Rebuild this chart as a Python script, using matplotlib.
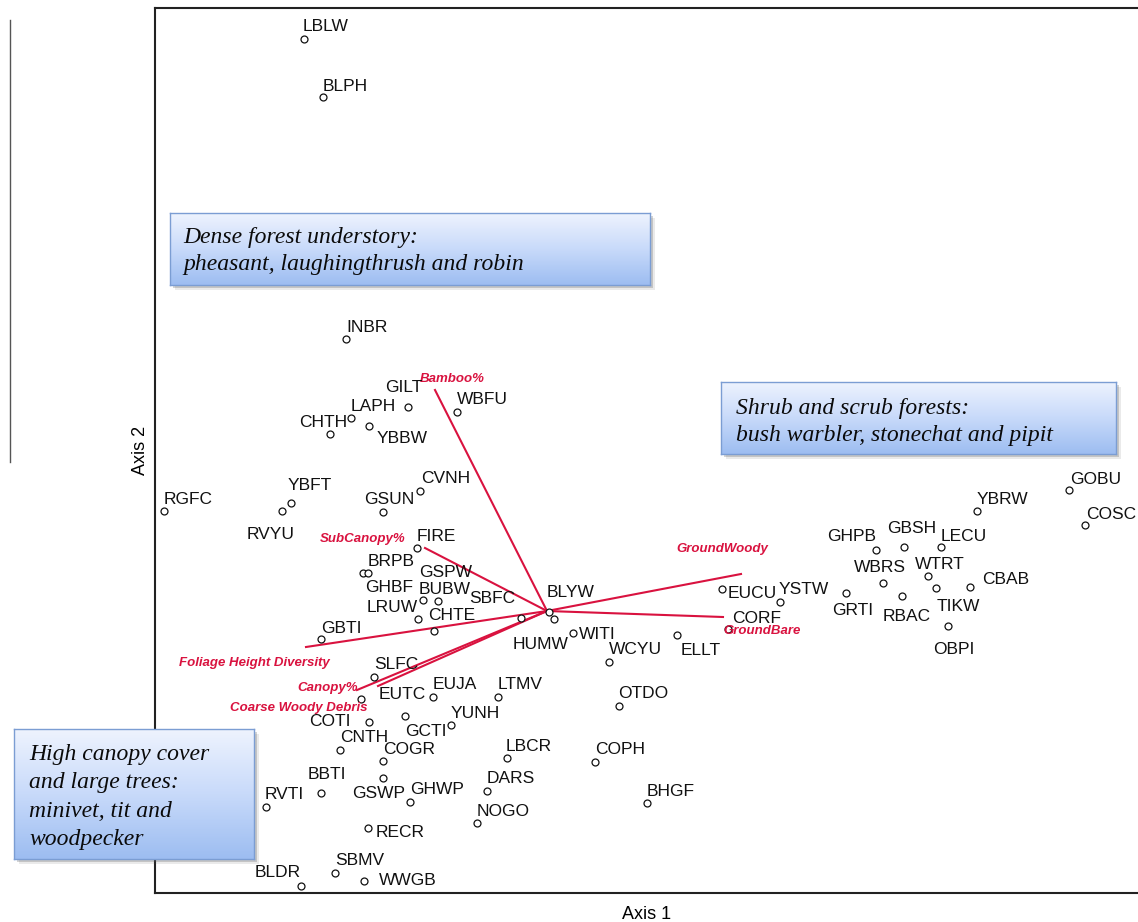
import matplotlib
matplotlib.use("Agg")
import matplotlib.pyplot as plt
import numpy as np
from matplotlib.lines import Line2D
from matplotlib.patches import Rectangle

plt.rcParams['font.family'] = ['Liberation Sans', 'DejaVu Sans']

# species scores on the two ordination axes
species = ["LBLW", "BLPH", "INBR", "GILT", "WBFU", "LAPH", "CHTH", "YBBW",
           "CVNH", "YBFT", "RVYU", "RGFC", "GSUN", "FIRE", "BRPB", "GHBF",
           "GSPW", "BUBW", "LRUW", "CHTE", "SBFC", "BLYW", "HUMW", "GBTI",
           "WITI", "WCYU", "ELLT", "EUCU", "YSTW", "CORF", "OTDO", "COPH",
           "BHGF", "LBCR", "DARS", "NOGO", "LTMV", "SLFC", "EUTC", "EUJA",
           "YUNH", "GCTI", "COTI", "CNTH", "COGR", "GSWP", "GHWP", "BBTI",
           "RVTI", "RECR", "SBMV", "WWGB", "BLDR", "GOBU", "COSC", "YBRW",
           "GHPB", "GBSH", "LECU", "WBRS", "WTRT", "CBAB", "TIKW", "RBAC",
           "GRTI", "OBPI"]
axis1 = [-2.43, -2.24, -2.01, -1.39, -0.90, -1.96, -2.17, -1.78,
         -1.27, -2.56, -2.65, -3.83, -1.64, -1.30, -1.84, -1.79,
         -1.24, -1.09, -1.29, -1.13, -0.26, 0.02, 0.07, -2.26,
         0.26, 0.62, 1.30, 1.75, 2.33, 1.81, 0.72, 0.48,
         1.00, -0.40, -0.60, -0.70, -0.49, -1.73, -1.86, -1.14,
         -0.96, -1.42, -1.78, -2.07, -1.64, -1.64, -1.37, -2.26,
         -2.81, -1.79, -2.12, -1.83, -2.46, 5.22, 5.38, 4.30,
         3.29, 3.57, 3.94, 3.36, 3.81, 4.23, 3.89, 3.55,
         2.99, 4.01]
axis2 = [5.72, 5.14, 2.72, 2.04, 1.99, 1.93, 1.77, 1.85,
         1.20, 1.08, 1.00, 1.00, 0.99, 0.63, 0.38, 0.38,
         0.11, 0.10, -0.08, -0.20, -0.07, -0.01, -0.08, -0.28,
         -0.22, -0.51, -0.24, 0.22, 0.09, -0.18, -0.95, -1.51,
         -1.92, -1.47, -1.80, -2.12, -0.86, -0.66, -0.88, -0.86,
         -1.14, -1.05, -1.11, -1.39, -1.50, -1.67, -1.91, -1.82,
         -1.96, -2.17, -2.62, -2.70, -2.75, 1.21, 0.86, 1.00,
         0.61, 0.64, 0.64, 0.28, 0.35, 0.24, 0.23, 0.15,
         0.18, -0.15]

# habitat variable vectors
variables = ["Bamboo%", "SubCanopy%", "Foliage Height Diversity", "Canopy%",
             "Coarse Woody Debris", "GroundWoody", "GroundBare"]
vec1 = [-1.12, -1.22, -2.41, -1.90, -1.69, 1.94, 1.76]
vec2 = [2.21, 0.63, -0.36, -0.79, -0.75, 0.37, -0.06]

# label placement (pixels from the point: dx to text start, dy to text middle)
label_offsets = {
    "LBLW": (-1, 14), "BLPH": (0, 12), "INBR": (0, 13), "GILT": (-23, 21),
    "WBFU": (0, 14), "LAPH": (0, 13), "CHTH": (-31, 13), "YBBW": (8, -11),
    "CVNH": (1, 14), "YBFT": (-3, 19), "RVYU": (-35, -22), "RGFC": (0, 13),
    "GSUN": (-19, 14), "FIRE": (0, 13), "BRPB": (5, 13), "GHBF": (-3, -13),
    "GSPW": (-4, 29), "BUBW": (-19, 13), "LRUW": (-51, 13), "CHTE": (-6, 17),
    "SBFC": (-52, 21), "BLYW": (-2, 21), "HUMW": (-41, -24), "GBTI": (0, 12),
    "WITI": (6, 0), "WCYU": (0, 14), "ELLT": (4, -14), "EUCU": (6, -3),
    "YSTW": (-1, 14), "CORF": (4, 12), "OTDO": (-1, 14), "COPH": (0, 14),
    "BHGF": (0, 13), "LBCR": (-1, 13), "DARS": (0, 14), "NOGO": (0, 13),
    "LTMV": (0, 14), "SLFC": (0, 14), "EUTC": (18, 6), "EUJA": (0, 14),
    "YUNH": (0, 13), "GCTI": (0, -14), "COTI": (-60, 2), "CNTH": (0, 14),
    "COGR": (0, 13), "GSWP": (-31, -14), "GHWP": (0, 14), "BBTI": (-13, 20),
    "RVTI": (-1, 14), "RECR": (8, -3), "SBMV": (0, 14), "WWGB": (15, 2),
    "BLDR": (-46, 15), "GOBU": (1, 12), "COSC": (1, 12), "YBRW": (0, 13),
    "GHPB": (-49, 15), "GBSH": (-17, 20), "LECU": (0, 12), "WBRS": (-29, 17),
    "WTRT": (-13, 13), "CBAB": (12, 9), "TIKW": (1, -17), "RBAC": (-19, -19),
    "GRTI": (-14, -16), "OBPI": (-15, -22),
}
vector_label_pos = {
    "Bamboo%": ("left", -15, 13),
    "SubCanopy%": ("right", -20, 11),
    "Foliage Height Diversity": ("right", 24, -14),
    "Canopy%": ("right", 1, 4),
    "Coarse Woody Debris": ("right", -10, -20),
    "GroundWoody": ("right", 27, 27),
    "GroundBare": ("left", 0, -12),
}

W, H = 1138, 922
RED = '#d9123f'

fig = plt.figure(figsize=(W / 100, H / 100), dpi=100)
ax = fig.add_axes([155 / W, 29 / H, 983 / W, 885 / H])

for v, x, y in zip(variables, vec1, vec2):
    ax.plot([0, x], [0, y], color=RED, lw=1.5, zorder=2)
    ha, dx, dy = vector_label_pos[v]
    ax.annotate(v, (x, y), xytext=(dx, dy - 5), textcoords='offset pixels',
                ha=ha, va='baseline', color=RED, fontsize=9.5,
                fontweight='bold', fontstyle='italic', zorder=4)

ax.plot(axis1, axis2, 'o', ms=5, mfc='white', mec='#111111', mew=0.9,
        ls='none', zorder=3)
for s, x, y in zip(species, axis1, axis2):
    dx, dy = label_offsets[s]
    ax.annotate(s, (x, y), xytext=(dx, dy - 6), textcoords='offset pixels',
                ha='left', va='baseline', fontsize=12.5, color='#111111',
                zorder=4)

ax.set_xlim(-3.92, 5.91)
ax.set_ylim(-2.82, 6.03)
ax.set_xticks([])
ax.set_yticks([])
for side in ['left', 'top', 'bottom']:
    ax.spines[side].set_linewidth(1.5)
    ax.spines[side].set_color('#222222')
ax.spines['right'].set_visible(False)
ax.set_xlabel('Axis 1', fontsize=13, labelpad=9)
ax.set_ylabel('Axis 2', fontsize=13, labelpad=4)


def fig_xy(x, y):
    return x / W, 1 - y / H


def note_box(x0, y0, x1, y1, lines, x_text, baselines):
    # soft shadow
    for off, a in [(5, 0.12), (3, 0.25)]:
        fig.add_artist(Rectangle(fig_xy(x0 + off, y1 + off), (x1 - x0) / W,
                                 (y1 - y0) / H, transform=fig.transFigure,
                                 facecolor='#555555', edgecolor='none',
                                 alpha=a, zorder=5))
    bax = fig.add_axes([x0 / W, 1 - y1 / H, (x1 - x0) / W, (y1 - y0) / H])
    bax.set_zorder(6)
    grad = np.linspace(0, 1, 100).reshape(-1, 1)
    cmap = matplotlib.colors.LinearSegmentedColormap.from_list(
        'box', ['#eef3fe', '#c8dafa', '#9dbdf1'])
    bax.imshow(grad, aspect='auto', cmap=cmap, extent=[0, 1, 1, 0])
    bax.set_xticks([])
    bax.set_yticks([])
    for sp in bax.spines.values():
        sp.set_color('#7b9dd3')
        sp.set_linewidth(1.0)
    for line, yb in zip(lines, baselines):
        bax.text((x_text - x0) / (x1 - x0), 1 - (yb - y0) / (y1 - y0), line,
                 transform=bax.transAxes, ha='left', va='baseline',
                 family=['Liberation Serif', 'DejaVu Serif'],
                 fontstyle='italic', fontsize=17, color='#0a0a0a')


note_box(170, 213, 650, 285,
         ["Dense forest understory:", "pheasant, laughingthrush and robin"],
         183, [243, 270])
note_box(721, 382, 1116, 454,
         ["Shrub and scrub forests:", "bush warbler, stonechat and pipit"],
         736, [414, 441])
note_box(14, 729, 254, 859,
         ["High canopy cover", "and large trees:", "minivet, tit and",
          "woodpecker"],
         29, [760, 788, 817, 845])

# stray rule at the far left of the original figure
fig.add_artist(Line2D([10 / W, 10 / W], [1 - 20 / H, 1 - 462 / H],
                      transform=fig.transFigure, color='#555555', lw=1.0))

fig.savefig('out.png', dpi=100)
